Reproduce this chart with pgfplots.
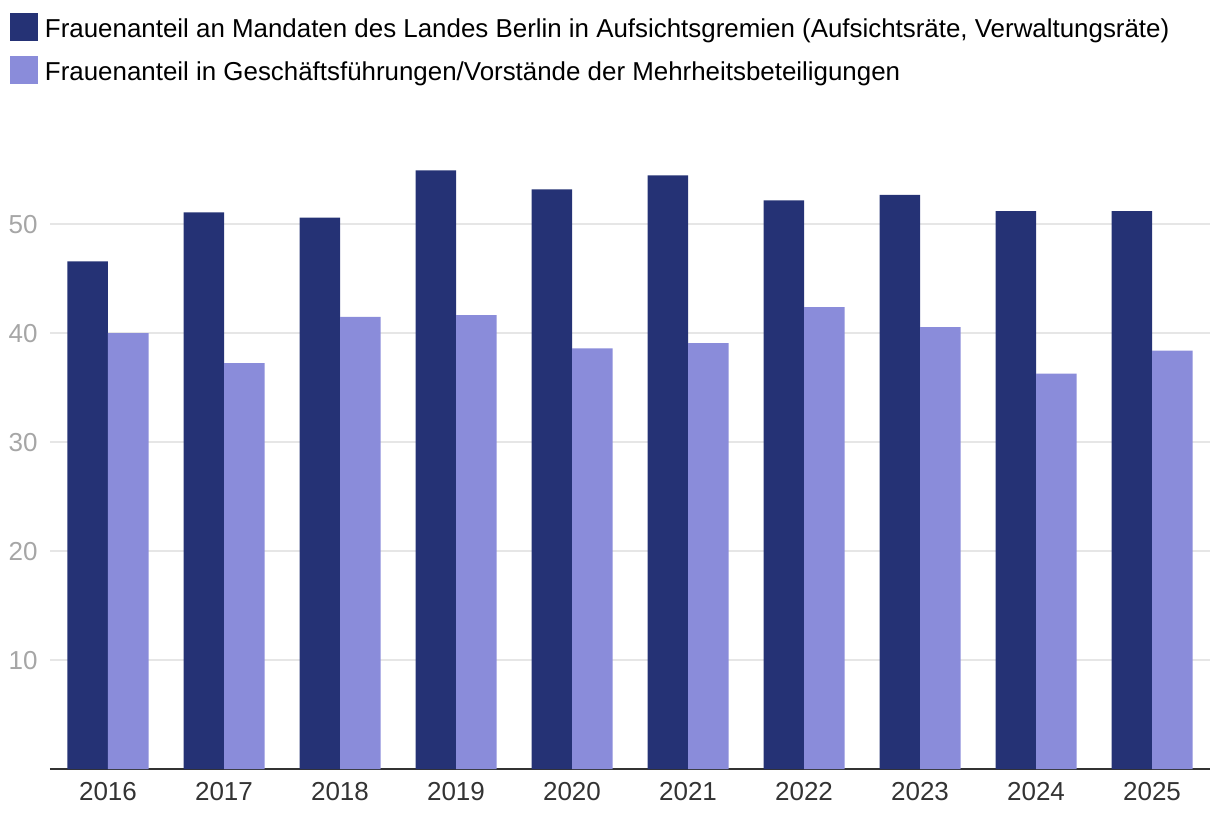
\documentclass[border=0pt]{standalone}
\usepackage{fontspec}
\setmainfont{Liberation Sans}
\usepackage{pgfplots}
\pgfplotsset{compat=1.18}
\definecolor{darkbar}{HTML}{253275}
\definecolor{lightbar}{HTML}{8A8CDA}
\definecolor{gridgray}{HTML}{E6E6E6}
\definecolor{ticklab}{HTML}{A6A6A6}
\definecolor{xlab}{HTML}{333333}
\begin{document}
\begin{tikzpicture}
  \begin{axis}[
    at={(0,0)}, anchor=south west,
    scale only axis,
    width=580pt, height=310.5pt,
    ybar=0pt, bar width=20.25pt,
    xmin=-0.5, xmax=9.5,
    ymin=0, ymax=57,
    xtick={0,...,9},
    xticklabels={2016,2017,2018,2019,2020,2021,2022,2023,2024,2025},
    ytick={10,20,30,40,50},
    axis x line=bottom, axis y line=left,
    x axis line style={-, draw=xlab, line width=1pt},
    y axis line style={draw=none},
    major tick length=0pt,
    ymajorgrids, grid style={draw=gridgray, line width=1pt},
    /pgf/number format/assume math mode=true,
    xticklabel style={font=\fontsize{13}{15}\selectfont, text=xlab, inner sep=0pt, anchor=north, yshift=-6.5pt},
    yticklabel style={font=\fontsize{13}{15}\selectfont, text=ticklab, inner sep=0pt, anchor=east, xshift=-6pt},
    legend style={
      draw=none, fill=none,
      at={(axis description cs:-0.0345,1.2174)}, anchor=north west,
      inner sep=0pt, outer sep=0pt,
      font=\fontsize{12.95}{16}\selectfont,
      row sep=7pt,
      nodes={inner sep=0pt, outer sep=0pt, text height=9.5pt, text depth=2.5pt},
      /tikz/every even column/.append style={column sep=0pt}},
    legend cell align=left,
    legend image code/.code={\fill (0pt,-5.5pt) rectangle (14pt,8.5pt);},
  ]
    \addplot[fill=darkbar, draw=none] coordinates {
      (0,46.6) (1,51.1) (2,50.6) (3,54.95) (4,53.2)
      (5,54.5) (6,52.2) (7,52.7) (8,51.2) (9,51.2)
    };
    \addplot[fill=lightbar, draw=none] coordinates {
      (0,40.0) (1,37.25) (2,41.5) (3,41.65) (4,38.6)
      (5,39.1) (6,42.4) (7,40.55) (8,36.3) (9,38.4)
    };
    \legend{{\hspace{3.5pt}Frauenanteil an Mandaten des Landes Berlin in Aufsichtsgremien (Aufsichtsräte, Verwaltungsräte)},
            {\hspace{3.5pt}Frauenanteil in Geschäftsführungen/Vorstände der Mehrheitsbeteiligungen}}
  \end{axis}
  \pgfresetboundingbox
  \useasboundingbox (-25pt,-28.5pt) rectangle (585pt,384.5pt);
\end{tikzpicture}
\end{document}
